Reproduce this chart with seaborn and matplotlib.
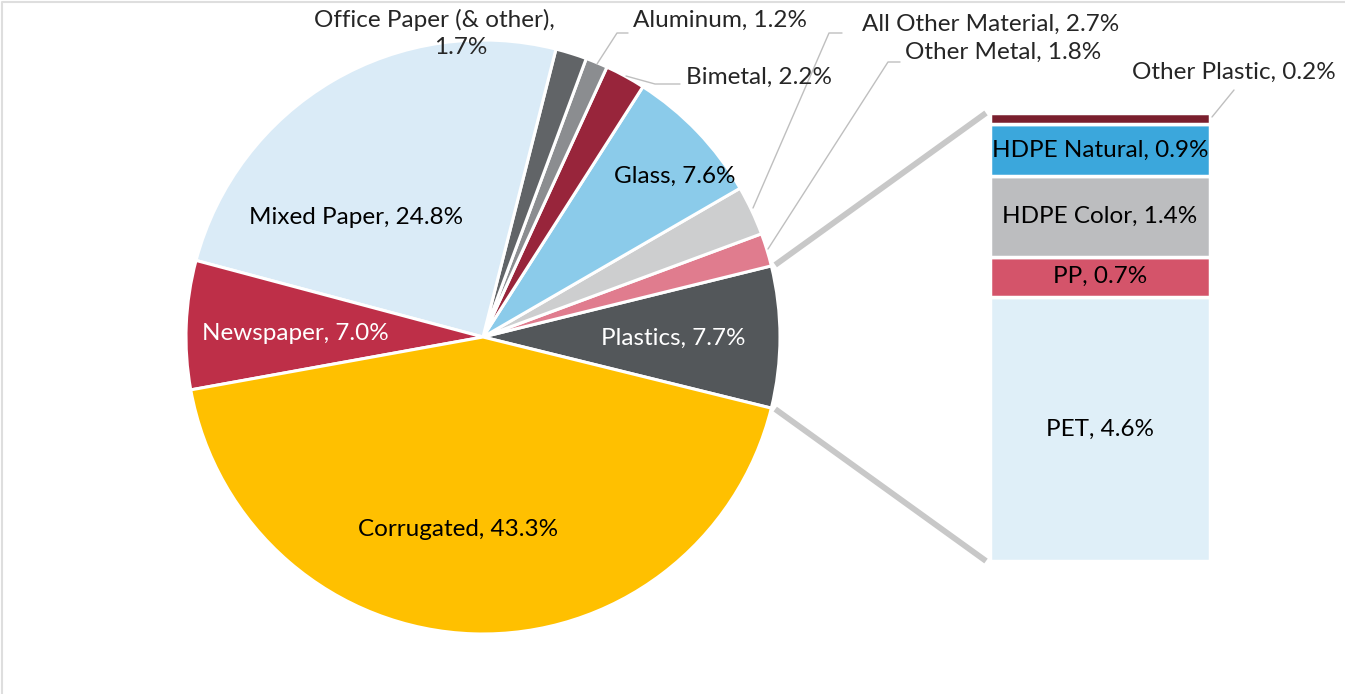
import matplotlib
matplotlib.use("Agg")
import matplotlib.pyplot as plt
from matplotlib.lines import Line2D
import numpy as np
import seaborn as sns

# Pie: material composition (%), counterclockwise starting at Plastics
pie_names = ["Plastics", "Other Metal", "All Other Material", "Glass", "Bimetal",
             "Aluminum", "Office Paper (& other)", "Mixed Paper", "Newspaper", "Corrugated"]
pie_values = [7.7, 1.8, 2.7, 7.6, 2.2, 1.2, 1.7, 24.8, 7.0, 43.3]
pie_colors = ["#53575a", "#e07c8e", "#cdcecf", "#8bcbea", "#98253b",
              "#8b8d90", "#616467", "#daebf7", "#be2f48", "#ffc000"]

# Bar: plastics breakdown (%), bottom to top
plastic_names = ["PET", "PP", "HDPE Color", "HDPE Natural", "Other Plastic"]
plastic_values = [4.6, 0.7, 1.4, 0.9, 0.2]
plastic_colors = ["#dfeff8", "#d4546a", "#bcbdbf", "#3ba7dc", "#7a1f2e"]

sns.set_theme(style="white")
plt.rcParams["font.family"] = ["Lato", "DejaVu Sans"]
FS = 17.5

W, H = 1345, 694
fig = plt.figure(figsize=(W / 100, H / 100), dpi=100)
ax = fig.add_axes([0, 0, 1, 1])

cx, cy, R = 483, 337, 297
half = pie_values[0] / sum(pie_values) * 360 / 2
# y axis is inverted (pixel coords), so clockwise here is counterclockwise on screen
wedges, _ = ax.pie(pie_values, colors=pie_colors, startangle=half, counterclock=False,
                   center=(cx, cy), radius=R,
                   wedgeprops=dict(edgecolor="white", linewidth=2.2))
ax.set_xlim(0, W)
ax.set_ylim(H, 0)
ax.axis("off")

def lab(i):
    return f"{pie_names[i]}, {pie_values[i]:.1f}%"

# labels inside the pie
inside = {9: (458, 530, "black"), 8: (295, 333, "white"), 7: (356, 217, "black"),
          3: (675, 176, "black"), 0: (673, 338, "white")}
for i, (x, y, c) in inside.items():
    ax.text(x, y, lab(i), ha="center", va="center", fontsize=FS, color=c)

# labels outside with leader lines
lc = "#bfbfbf"
ax.text(434, 20, f"{pie_names[6]},", ha="center", va="center", fontsize=FS)
ax.text(461, 47, f"{pie_values[6]:.1f}%", ha="center", va="center", fontsize=FS)
outside = {
    5: ((633, 20), [(597, 64), (617, 33), (628, 33)]),
    4: ((686, 77), [(626, 76), (655, 84), (680, 84)]),
    2: ((862, 24), [(753, 208), (829, 33), (842, 33)]),
    1: ((905, 52), [(768, 249), (888, 62), (900, 62)]),
}
for i, ((tx, ty), pts) in outside.items():
    ax.text(tx, ty, lab(i), ha="left", va="center", fontsize=FS)
    ax.plot([p[0] for p in pts], [p[1] for p in pts], color=lc, lw=1)

# stacked bar for plastics
bx0, bx1, by0, by1 = 990, 1210, 561, 113
bax = fig.add_axes([bx0 / W, 1 - by0 / H, (bx1 - bx0) / W, (by0 - by1) / H])
bottom = 0
for name, v, c in zip(plastic_names, plastic_values, plastic_colors):
    bax.bar(0, v, bottom=bottom, width=1, color=c, edgecolor="white", linewidth=2.5)
    if name != "Other Plastic":
        bax.text(0, bottom + v / 2, f"{name}, {v:.1f}%", ha="center", va="center",
                 fontsize=FS, color="black")
    bottom += v
bax.set_xlim(-0.5, 0.5)
bax.set_ylim(0, sum(plastic_values))
bax.axis("off")

ax.text(1132, 72, f"{plastic_names[4]}, {plastic_values[4]:.1f}%", ha="left",
        va="center", fontsize=FS)
ax.plot([1212, 1234], [117, 90], color=lc, lw=1)

# connectors between the plastics wedge and the bar
to_px = ax.transData.inverted()
for ang, yb in [(half, sum(plastic_values)), (-half, 0)]:
    a = np.deg2rad(ang)
    p0 = (cx + (R + 4) * np.cos(a), cy - (R + 4) * np.sin(a))
    p1 = to_px.transform(bax.transData.transform((-0.5, yb)))
    ax.plot([p0[0], p1[0] - 4], [p0[1], p1[1]], color="#c8c8c8", lw=4.2,
            solid_capstyle="butt")

# thin border on top and left edges
fig.lines.append(Line2D([1.5 / W, 1.5 / W, 1], [0, 1 - 1.5 / H, 1 - 1.5 / H],
                        transform=fig.transFigure, color="#dedede", lw=1.5))

fig.savefig("out.png", dpi=100)
